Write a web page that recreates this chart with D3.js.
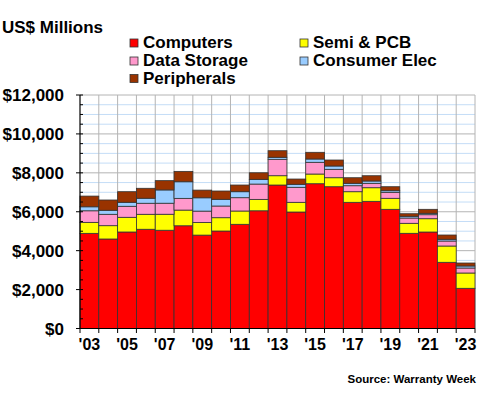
<!DOCTYPE html>
<html><head><meta charset="utf-8">
<script src="https://cdn.jsdelivr.net/npm/d3@7"></script>
<style>body{margin:0;background:#fff}svg{display:block}text{font-family:"Liberation Sans",Arial,sans-serif;font-weight:bold;fill:#000}</style>
</head><body>
<script>
const years = ["2003","2004","2005","2006","2007","2008","2009","2010","2011","2012","2013","2014","2015","2016","2017","2018","2019","2020","2021","2022","2023"];
const computers = [4890,4600,4960,5100,5050,5280,4800,5010,5355,6050,7374,5987,7441,7287,6485,6536,6125,4892,4959,3402,2066];
const semi = [565,684,755,770,822,806,652,684,683,586,478,498,498,462,545,699,566,514,683,837,786];
const storage = [595,585,566,566,566,602,581,601,684,787,843,771,602,432,308,227,308,272,206,257,257];
const consumer = [205,206,205,257,683,853,684,344,308,241,103,154,169,170,124,118,82,88,72,88,103];
const peripherals = [550,529,545,513,478,534,395,427,344,339,339,272,345,308,287,272,206,133,205,221,154];
const seriesNames = ["Computers","Semi & PCB","Data Storage","Consumer Elec","Peripherals"];
const colors = ["#FF0000","#FFFF00","#FF99CC","#99CCFF","#993300"];
const yTicks = [0,2000,4000,6000,8000,10000,12000];
const xLabelYears = ["2003","2005","2007","2009","2011","2013","2015","2017","2019","2021","2023"];

const W=480,H=400;
const svg=d3.select("body").append("svg").attr("width",W).attr("height",H);
const x=d3.scaleBand().domain(years).range([80,475]).padding(0);
const y=d3.scaleLinear().domain([0,12000]).range([328.5,95]);

const keys=["c","s","d","e","p"];
const table=years.map((yr,i)=>({year:yr,c:computers[i],s:semi[i],d:storage[i],e:consumer[i],p:peripherals[i]}));
const stack=d3.stack().keys(keys)(table);

// minor grid (blue) every 500
const g=svg.append("g");
d3.range(500,12000,500).filter(v=>v%2000!==0).forEach(v=>{
  g.append("line").attr("x1",80).attr("x2",475).attr("y1",y(v)).attr("y2",y(v)).attr("stroke","#C4DDF7").attr("stroke-width",1);
});
yTicks.filter(v=>v>0).forEach(v=>{
  g.append("line").attr("x1",80).attr("x2",475).attr("y1",y(v)).attr("y2",y(v)).attr("stroke","#B4B4B4").attr("stroke-width",1);
});
years.forEach((yr,i)=>{
  const xx=x(yr)+x.bandwidth();
  g.append("line").attr("x1",xx).attr("x2",xx).attr("y1",95).attr("y2",328.5).attr("stroke","#B4B4B4").attr("stroke-width",1);
});

// bars
stack.forEach((layer,k)=>{
  svg.append("g").selectAll("rect").data(layer).join("rect")
    .attr("x",d=>x(d.data.year)).attr("width",x.bandwidth())
    .attr("y",d=>y(d[1])).attr("height",d=>y(d[0])-y(d[1]))
    .attr("fill",colors[k]).attr("stroke","#333").attr("stroke-width",0.8);
});

// y axis
const ya=svg.append("g");
ya.append("line").attr("x1",80).attr("x2",80).attr("y1",95).attr("y2",328.5).attr("stroke","#000").attr("stroke-width",1.2);
d3.range(500,12000,500).filter(v=>v%2000!==0).forEach(v=>{
  ya.append("line").attr("x1",80).attr("x2",83).attr("y1",y(v)).attr("y2",y(v)).attr("stroke","#000");
});
yTicks.forEach(v=>{
  ya.append("line").attr("x1",76).attr("x2",83).attr("y1",y(v)).attr("y2",y(v)).attr("stroke","#000");
  ya.append("text").attr("x",64).attr("y",y(v)).attr("dy","0.36em").attr("text-anchor","end").attr("font-size",17).text("$"+d3.format(",")(v));
});
// x axis
const xa=svg.append("g");
xa.append("line").attr("x1",80).attr("x2",475).attr("y1",328.5).attr("y2",328.5).attr("stroke","#000").attr("stroke-width",1.2);
years.forEach(yr=>{
  const xx=x(yr);
  xa.append("line").attr("x1",xx).attr("x2",xx).attr("y1",328.5).attr("y2",333).attr("stroke","#000");
});
xa.append("line").attr("x1",475).attr("x2",475).attr("y1",328.5).attr("y2",333).attr("stroke","#000");
xLabelYears.forEach(yr=>{
  xa.append("text").attr("x",x(yr)+x.bandwidth()/2).attr("y",350).attr("text-anchor","middle").attr("font-size",16).text("'"+yr.slice(2));
});

// title
svg.append("text").attr("x",2).attr("y",33).attr("font-size",17).text("US$ Millions");
// legend
const legPos=[[130,48],[300,48],[130,66],[300,66],[130,83.5]];
seriesNames.forEach((n,i)=>{
  const [lx,ly]=legPos[i];
  svg.append("rect").attr("x",lx).attr("y",ly-9).attr("width",8).attr("height",8).attr("fill",colors[i]).attr("stroke","#333").attr("stroke-width",0.8);
  svg.append("text").attr("x",lx+13).attr("y",ly).attr("font-size",17).text(n);
});
// source
svg.append("text").attr("x",476).attr("y",383).attr("text-anchor","end").attr("font-size",11.5).text("Source: Warranty Week");
</script>
</body></html>
